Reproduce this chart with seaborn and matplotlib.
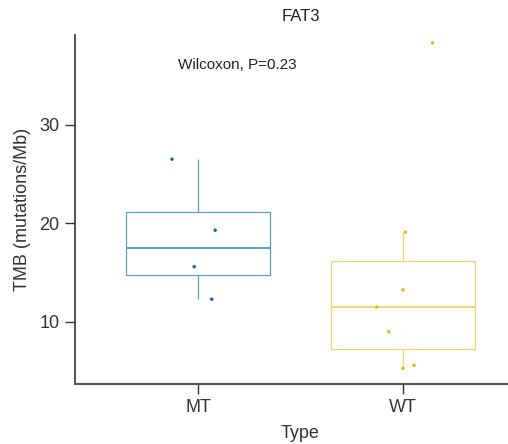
import numpy as np
import pandas as pd
import matplotlib
matplotlib.use("Agg")
import matplotlib.pyplot as plt
import seaborn as sns

# Data
mt_values = [26.5, 19.3, 15.6, 12.3]
wt_values = [38.3, 19.1, 13.25, 11.5, 9.0, 5.3, 5.6]
categories = ["MT", "WT"]
yticks = [10, 20, 30]
title = "FAT3"
annotation = "Wilcoxon, P=0.23"

df = pd.DataFrame({
    "Type": ["MT"] * len(mt_values) + ["WT"] * len(wt_values),
    "TMB": mt_values + wt_values,
})

sns.set_theme(style="white")
plt.rcParams["font.family"] = ["Liberation Sans", "DejaVu Sans"]

fig = plt.figure(figsize=(5.08, 4.44), dpi=100)
ax = fig.add_axes([75 / 508, 60 / 444, 451 / 508, 349 / 444])

box_colors = {"MT": "#5aa0cb", "WT": "#f1d670"}
pt_colors = {"MT": "#1c5fae", "WT": "#e8b80a"}

sns.boxplot(data=df, x="Type", y="TMB", hue="Type", order=categories,
            palette=box_colors, fill=False, width=0.7, showfliers=False,
            showcaps=False, linewidth=0.9, legend=False, ax=ax,
            medianprops={"linewidth": 1.4})

np.random.seed(7)
sns.stripplot(data=df, x="Type", y="TMB", hue="Type", order=categories,
              palette=pt_colors, jitter=0.15, size=2.5, legend=False, ax=ax)

ax.set_xlim(-0.6, 1.6)
ax.set_ylim(3.7, 39.1)
ax.set_yticks(yticks)
ax.set_xlabel("Type", fontsize=13, color="#333333", labelpad=6)
ax.set_ylabel("TMB (mutations/Mb)", fontsize=13, color="#333333", labelpad=6)
ax.set_title(title, fontsize=12, color="#222222", pad=10)
ax.tick_params(axis="both", labelsize=13, colors="#333333", length=7,
               width=1.0, direction="out", left=True, bottom=True, pad=4)
for s in ["top", "right"]:
    ax.spines[s].set_visible(False)
ax.spines["left"].set_color("#333333")
ax.spines["bottom"].set_color("#555555")
ax.spines["left"].set_linewidth(1.2)
ax.spines["bottom"].set_linewidth(1.5)

ax.text(0.19, 36.1, annotation, ha="center", va="center", fontsize=11,
        color="#222222")

fig.savefig("out.png", dpi=100)
